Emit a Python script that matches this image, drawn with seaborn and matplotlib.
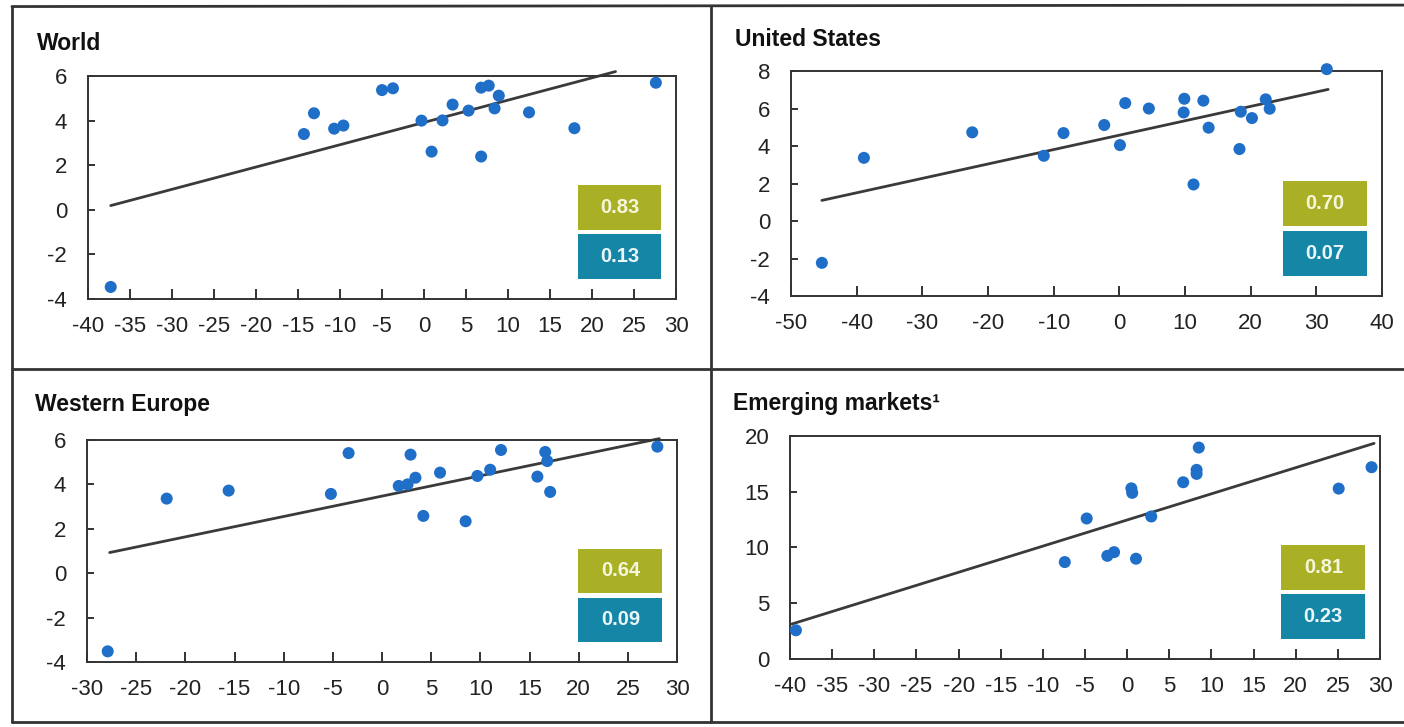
import matplotlib
matplotlib.use("Agg")
import matplotlib.pyplot as plt
from matplotlib.lines import Line2D
from matplotlib.patches import Rectangle
import seaborn as sns
import pandas as pd

# ---- data ----
world_x = [-37.3, -14.3, -13.1, -10.7, -9.6, -5.0, -3.7, -0.3, 0.9, 2.2, 3.4, 5.3, 6.8, 7.7, 6.8, 8.9, 8.4, 12.5, 17.9, 27.6]
world_y = [-3.46, 3.4, 4.33, 3.64, 3.78, 5.37, 5.45, 4.0, 2.61, 4.01, 4.72, 4.45, 5.48, 5.57, 2.39, 5.12, 4.55, 4.37, 3.66, 5.7]
world_fit_x = [-37.3, 22.8]
world_fit_y = [0.19, 6.2]

us_x = [-45.3, -38.9, -22.4, -11.5, -8.5, -2.3, 0.1, 0.9, 4.5, 9.9, 9.8, 11.3, 12.8, 13.6, 18.3, 18.5, 20.2, 22.3, 22.9, 31.6]
us_y = [-2.23, 3.37, 4.73, 3.48, 4.69, 5.12, 4.05, 6.29, 6.0, 6.52, 5.79, 1.95, 6.42, 4.98, 3.84, 5.83, 5.49, 6.49, 5.99, 8.1]
us_fit_x = [-45.3, 31.8]
us_fit_y = [1.10, 7.02]

we_x = [-27.9, -21.9, -15.6, -5.2, -3.4, 1.7, 2.9, 2.6, 3.4, 4.2, 5.9, 8.5, 9.7, 11.0, 12.1, 15.8, 16.6, 16.8, 17.1, 28.0]
we_y = [-3.52, 3.36, 3.72, 3.57, 5.41, 3.93, 5.34, 4.0, 4.3, 2.58, 4.53, 2.34, 4.38, 4.66, 5.55, 4.35, 5.46, 5.05, 3.66, 5.7]
we_fit_x = [-27.7, 28.2]
we_fit_y = [0.93, 6.06]

em_x = [-39.3, -7.4, -4.8, -2.35, -1.55, 0.5, 0.6, 1.05, 2.86, 6.65, 8.24, 8.24, 8.5, 25.1, 29.0]
em_y = [2.57, 8.69, 12.6, 9.25, 9.58, 15.3, 14.9, 8.99, 12.78, 15.85, 16.96, 16.6, 18.96, 15.28, 17.2]
em_fit_x = [-39.8, 29.3]
em_fit_y = [3.13, 19.34]

titles = ["World", "United States", "Western Europe", "Emerging markets\u00b9"]
top_values = ["0.83", "0.70", "0.64", "0.81"]
bottom_values = ["0.13", "0.07", "0.09", "0.23"]

x_limits = [(-40, 30), (-50, 40), (-30, 30), (-40, 30)]
x_steps = [5, 10, 5, 5]
y_limits = [(-4, 6), (-4, 8), (-4, 6), (0, 20)]
y_steps = [2, 2, 2, 5]

# ========================================================================

sns.set_theme(style="white")
plt.rcParams["font.family"] = ["Liberation Sans", "DejaVu Sans"]
plt.rcParams["axes.unicode_minus"] = False

dot_colour = "#1f6ec8"
line_colour = "#3a3a3a"
green = "#a9b026"
teal = "#1686a6"

fig = plt.figure(figsize=(14.04, 7.27), dpi=100)

ax_rects = [
    [0.0627, 0.5887, 0.4188, 0.3067],
    [0.5634, 0.5928, 0.4209, 0.3095],
    [0.0620, 0.0894, 0.4202, 0.3054],
    [0.5627, 0.0936, 0.4202, 0.3067],
]
title_pos = [(0.0264, 0.940), (0.5235, 0.945), (0.0249, 0.443), (0.5220, 0.445)]

panels = [
    (world_x, world_y, world_fit_x, world_fit_y),
    (us_x, us_y, us_fit_x, us_fit_y),
    (we_x, we_y, we_fit_x, we_fit_y),
    (em_x, em_y, em_fit_x, em_fit_y),
]

for i, (px, py, fx, fy) in enumerate(panels):
    ax = fig.add_axes(ax_rects[i])
    pts = pd.DataFrame({"x": px, "y": py})
    fit = pd.DataFrame({"x": fx, "y": fy})
    sns.lineplot(data=fit, x="x", y="y", ax=ax, color=line_colour, lw=2.0,
                 legend=False, zorder=2, clip_on=False)
    sns.scatterplot(data=pts, x="x", y="y", ax=ax, color=dot_colour, s=75,
                    edgecolor="none", zorder=3, clip_on=False)

    x0, x1 = x_limits[i]
    y0, y1 = y_limits[i]
    ax.set_xlim(x0, x1)
    ax.set_ylim(y0, y1)
    ax.set_xticks(range(x0, x1 + 1, x_steps[i]))
    ax.set_yticks(range(y0, y1 + 1, y_steps[i]))
    ax.set_xlabel("")
    ax.set_ylabel("")
    ax.tick_params(axis="both", direction="in", bottom=True, left=True,
                   width=1.3, colors="#222222", labelsize=16, labelcolor="#222222")
    ax.tick_params(axis="x", pad=12, length=7)
    ax.tick_params(axis="y", pad=15, length=5)
    for sp in ax.spines.values():
        sp.set_color("#333333")
        sp.set_linewidth(1.4)

    # value boxes
    ax.add_patch(Rectangle((0.833, 0.31), 0.142, 0.20, transform=ax.transAxes,
                           facecolor=green, edgecolor="none", zorder=4))
    ax.add_patch(Rectangle((0.833, 0.09), 0.142, 0.20, transform=ax.transAxes,
                           facecolor=teal, edgecolor="none", zorder=4))
    ax.text(0.904, 0.41, top_values[i], transform=ax.transAxes, ha="center",
            va="center", color="#f6f6dc", fontsize=14.5, fontweight="bold", zorder=5)
    ax.text(0.904, 0.19, bottom_values[i], transform=ax.transAxes, ha="center",
            va="center", color="#eaf6fa", fontsize=14.5, fontweight="bold", zorder=5)

    fig.text(title_pos[i][0], title_pos[i][1], titles[i], ha="left", va="center",
             fontsize=16.5, fontweight="bold", color="#111111")

# frame around the four panels
frame = dict(color="#333333", lw=2.0, transform=fig.transFigure)
fig.add_artist(Line2D([0.0085, 1.0], [0.991, 0.993], **frame))
fig.add_artist(Line2D([0.0085, 0.0085], [0.991, 0.007], **frame))
fig.add_artist(Line2D([0.0085, 1.0], [0.007, 0.007], **frame))
fig.add_artist(Line2D([0.5064, 0.5064], [0.991, 0.007], **frame))
fig.add_artist(Line2D([0.0085, 1.0], [0.4925, 0.4925], **frame))

fig.savefig("out.png", dpi=100)
